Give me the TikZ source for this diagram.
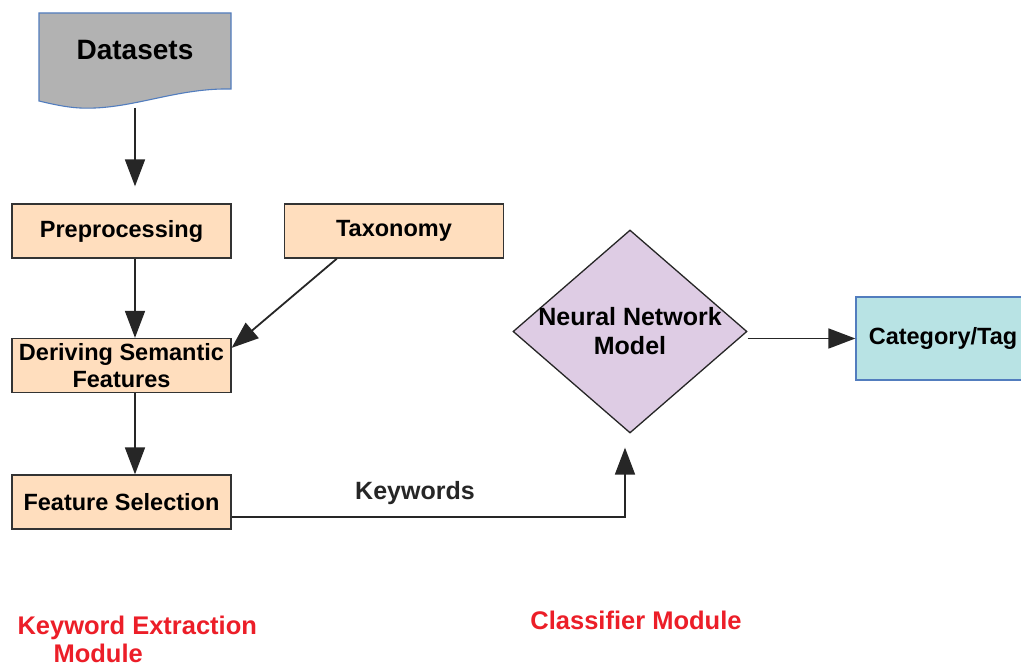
\documentclass[tikz,border=0pt]{standalone}
\usepackage{fontspec}
\setmainfont{Liberation Sans}
\usepackage{xcolor}
\usepackage{tikz}
\usetikzlibrary{arrows.meta,calc,positioning,shapes.geometric}
\definecolor{peach}{RGB}{255,222,190}
\definecolor{lilac}{RGB}{222,204,228}
\definecolor{paleteal}{RGB}{184,227,228}
\definecolor{docgray}{RGB}{178,178,178}
\definecolor{edgeblue}{RGB}{82,125,190}
\definecolor{modred}{RGB}{236,30,40}
\tikzset{
  stage/.style={draw=black!80, line width=1.3pt, fill=peach, minimum width=219pt, minimum height=54pt, inner sep=0pt, align=center, font=\fontsize{23.5}{27}\selectfont\bfseries},
  model/.style={draw=black!85, line width=1.3pt, fill=lilac, diamond, minimum width=234pt, minimum height=203pt, inner sep=0pt},
  result/.style={draw=edgeblue, line width=1.3pt, fill=paleteal, minimum width=174pt, minimum height=83pt, inner sep=0pt, font=\fontsize{23.5}{27}\selectfont\bfseries},
  caption/.style={align=center, font=\fontsize{25}{29}\selectfont\bfseries},
  modlabel/.style={text=modred, font=\fontsize{25.5}{28}\selectfont\bfseries},
  flow/.style={-{Triangle[length=27pt,width=20pt]}, line width=1.8pt, black!85}
}

\begin{document}
\begin{tikzpicture}[x=1pt,y=-1pt]
  \clip (0,0) rectangle (1021,668);
  \fill[white] (0,0) rectangle (1021,668);

  % document shape
  \draw[draw=edgeblue, line width=1.1pt, fill=docgray]
    (39,13) -- (231,13) -- (231,89)
    .. controls (180,88) and (140,106) .. (95,108)
    .. controls (75,109) and (60,106) .. (39,101) -- cycle;
  \node[font=\fontsize{28}{32}\selectfont\bfseries] (data) at (135,50) {Datasets};
  \coordinate (dataout) at (135,108);

  \node[stage] (prep) at (121.5,231) {Preprocessing};
  \node[stage] (taxo) at (394,231) {Taxonomy};
  \node[stage] (deriv) at (121.5,365.5) {Deriving Semantic\\Features};
  \node[stage] (fsel) at (121.5,502) {Feature Selection};

  \node[model] (nn) at (630,331.5) {};
  \node[caption] (nntxt) at (nn.center) {Neural Network\\Model};
  \node[result] (cat) at (943,338.5) {Category/Tag};

  \draw[flow, shorten >=17pt] (dataout) -- (dataout |- prep.north);
  \draw[flow] ([xshift=13.5pt]prep.south) -- ([xshift=13.5pt]deriv.north);
  \draw[flow] ([xshift=53pt]taxo.south west) -- ([yshift=-10pt]deriv.north east);
  \draw[flow] ([xshift=13.5pt]deriv.south) -- ([xshift=13.5pt]fsel.north);
  \draw[flow, shorten >=14pt] ([yshift=-15pt]fsel.east) -| node[caption, pos=0.233, above=8pt] (kw) {Keywords} ([xshift=-5pt]nn.south);
  \coordinate (nnout) at ([yshift=-7pt]nn.east);
  \draw[flow] (nnout) -- (nnout -| cat.west);

  \node[modlabel, align=left, anchor=north west] (kem) at (14,612) {Keyword Extraction\\\hspace*{36pt}Module};
  \node[modlabel] (clm) at (636,620) {Classifier Module};
\end{tikzpicture}
\end{document}
